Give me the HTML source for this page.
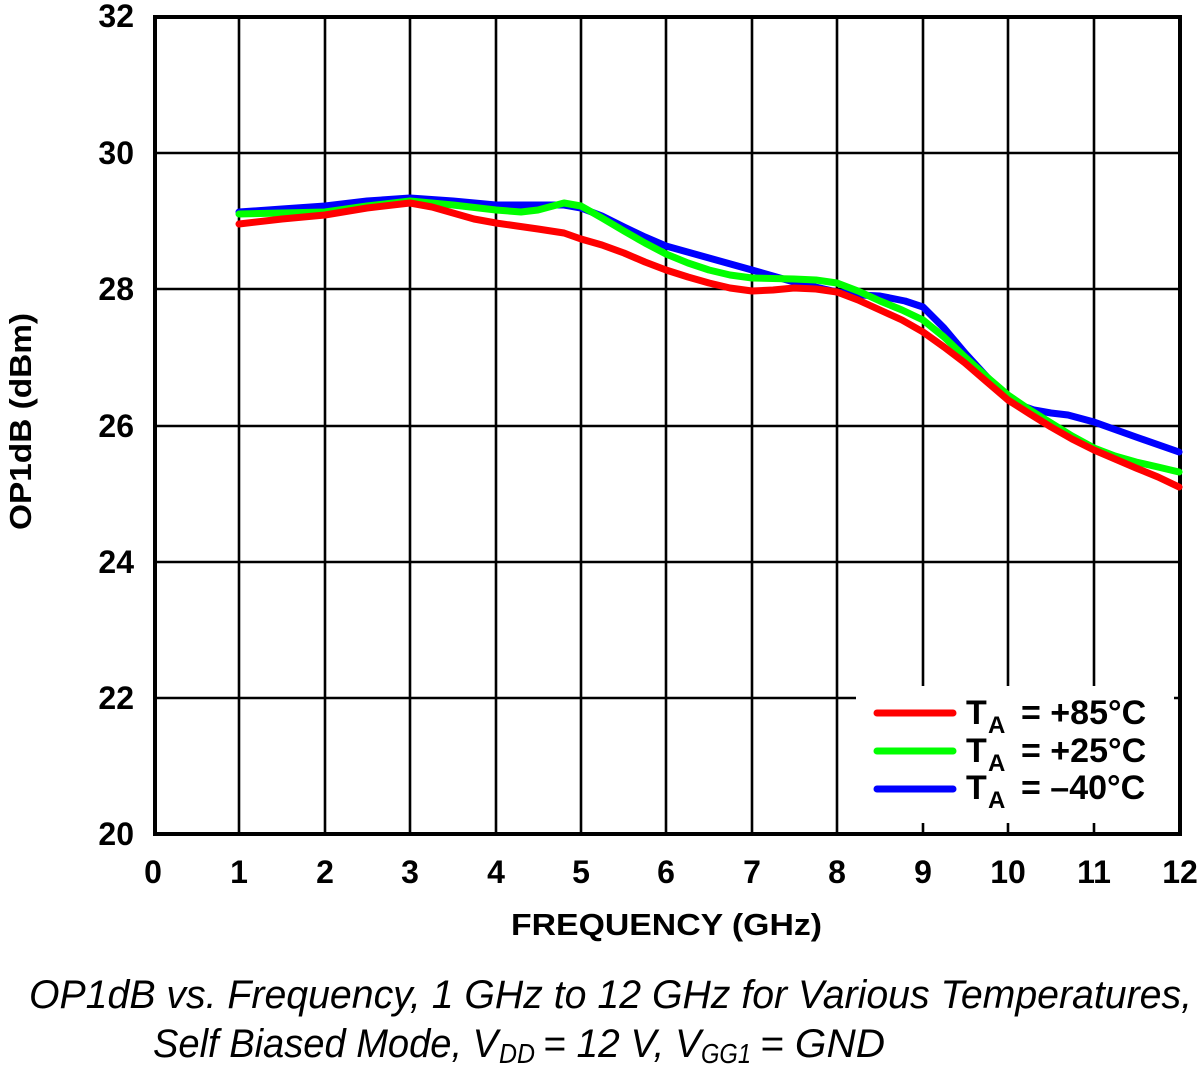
<!DOCTYPE html>
<html><head><meta charset="utf-8"><style>
html,body{margin:0;padding:0;background:#fff;}
svg{display:block;}
.tk{font-family:"Liberation Sans",Arial,sans-serif;font-weight:bold;font-size:32px;fill:#000;}
.cap{font-family:"Liberation Sans",Arial,sans-serif;font-style:italic;font-size:40px;fill:#000;}
</style></head><body>
<svg width="1200" height="1066" viewBox="0 0 1200 1066" xmlns="http://www.w3.org/2000/svg">
<rect x="0" y="0" width="1200" height="1066" fill="#fff"/>
<g stroke="#000" stroke-width="2.6" fill="none">
<line x1="239" y1="17" x2="239" y2="834"/>
<line x1="325" y1="17" x2="325" y2="834"/>
<line x1="410" y1="17" x2="410" y2="834"/>
<line x1="496" y1="17" x2="496" y2="834"/>
<line x1="581" y1="17" x2="581" y2="834"/>
<line x1="666" y1="17" x2="666" y2="834"/>
<line x1="752" y1="17" x2="752" y2="834"/>
<line x1="837" y1="17" x2="837" y2="834"/>
<line x1="923" y1="17" x2="923" y2="834"/>
<line x1="1008" y1="17" x2="1008" y2="834"/>
<line x1="1094" y1="17" x2="1094" y2="834"/>
<line x1="154" y1="153" x2="1180" y2="153"/>
<line x1="154" y1="289" x2="1180" y2="289"/>
<line x1="154" y1="426" x2="1180" y2="426"/>
<line x1="154" y1="562" x2="1180" y2="562"/>
<line x1="154" y1="698" x2="1180" y2="698"/>
</g>
<rect x="856" y="686" width="318" height="137" fill="#fff"/>
<rect x="155" y="17" width="1025" height="817" fill="none" stroke="#000" stroke-width="4"/>
<g fill="none" stroke-width="7" stroke-linejoin="round" stroke-linecap="round">
<polyline stroke="#0000ff" points="239,212 282,209 325,206 367,201 410,198 453,201 496,205 538,205 564,205 581,208 602,216 624,227 645,237 666,246 709,258 752,270 794,282 837,292 860,295 880,296 905,301 923,307 944,328 965,353 987,377 1008,398 1020,405 1034,410 1051,413 1068,415 1094,422 1136,437 1179,452"/>
<polyline stroke="#00ff00" points="239,214 282,213 325,212 367,206 410,201 453,205 496,210 521,212 538,210 564,203 581,206 602,218 624,231 645,243 666,254 688,263 709,270 730,275 752,278 794,279 816,280 837,283 858,291 880,301 902,310 923,320 944,337 965,357 987,377 1008,395 1030,410 1051,423 1072,436 1094,448 1115,456 1136,462 1158,467 1179,472"/>
<polyline stroke="#ff0000" points="239,224 282,219 325,215 367,208 410,203 432,207 453,213 474,219 496,223 517,226 538,229 564,233 581,239 602,245 624,253 645,262 666,270 688,277 709,283 730,288 752,291 773,290 794,288 816,289 837,292 858,300 880,310 902,320 923,332 944,347 965,363 987,382 1008,400 1030,414 1051,427 1072,439 1094,450 1115,459 1136,468 1158,477 1179,487"/>
</g>
<g stroke-width="7" stroke-linecap="round">
<line x1="877" y1="713" x2="953" y2="713" stroke="#ff0000"/>
<line x1="877" y1="751" x2="953" y2="751" stroke="#00ff00"/>
<line x1="877" y1="789" x2="953" y2="789" stroke="#0000ff"/>
</g>
<g class="tk" style="font-size:34px">
<text x="966" y="724">T</text><text x="988" y="733" style="font-size:24px">A</text><text x="1021" y="724">= +85°C</text>
<text x="966" y="762">T</text><text x="988" y="771" style="font-size:24px">A</text><text x="1021" y="762">= +25°C</text>
<text x="966" y="799">T</text><text x="988" y="808" style="font-size:24px">A</text><text x="1021" y="799">= –40°C</text>
</g>
<g class="tk" text-anchor="end">
<text x="134" y="27">32</text>
<text x="134" y="164">30</text>
<text x="134" y="300">28</text>
<text x="134" y="437">26</text>
<text x="134" y="573">24</text>
<text x="134" y="709">22</text>
<text x="134" y="845">20</text>
</g>
<g class="tk" text-anchor="middle">
<text x="153" y="883">0</text>
<text x="239" y="883">1</text>
<text x="325" y="883">2</text>
<text x="410" y="883">3</text>
<text x="496" y="883">4</text>
<text x="581" y="883">5</text>
<text x="666" y="883">6</text>
<text x="752" y="883">7</text>
<text x="837" y="883">8</text>
<text x="923" y="883">9</text>
<text x="1008" y="883">10</text>
<text x="1094" y="883">11</text>
<text x="1180" y="883">12</text>
</g>
<text class="tk" x="511" y="935" textLength="311" lengthAdjust="spacingAndGlyphs" style="font-size:31px">FREQUENCY (GHz)</text>
<text class="tk" transform="translate(31,530) rotate(-90)" x="0" y="0" textLength="217" lengthAdjust="spacingAndGlyphs" style="font-size:31px">OP1dB (dBm)</text>
<text class="cap" x="29" y="1008" textLength="1163" lengthAdjust="spacingAndGlyphs">OP1dB vs. Frequency, 1 GHz to 12 GHz for Various Temperatures,</text>
<text class="cap" x="153" y="1057" textLength="345" lengthAdjust="spacingAndGlyphs">Self Biased Mode, V</text>
<text class="cap" x="499" y="1063" textLength="36" lengthAdjust="spacingAndGlyphs" style="font-size:28px">DD</text>
<text class="cap" x="543" y="1057" textLength="158" lengthAdjust="spacingAndGlyphs">= 12 V, V</text>
<text class="cap" x="701" y="1063" textLength="50" lengthAdjust="spacingAndGlyphs" style="font-size:28px">GG1</text>
<text class="cap" x="760" y="1057" textLength="125" lengthAdjust="spacingAndGlyphs">= GND</text>
</svg>
</body></html>
